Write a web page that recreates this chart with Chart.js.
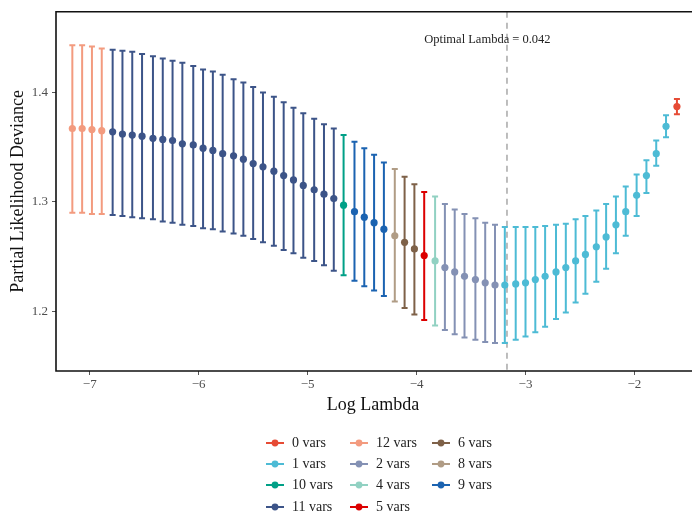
<!DOCTYPE html>
<html>
<head>
<meta charset="utf-8">
<script src="https://cdn.jsdelivr.net/npm/chart.js@4.4.1/dist/chart.umd.min.js"></script>
<style>
  body { margin: 0; background: #fff; }
  #wrap { position: relative; width: 694px; height: 515px; }
  #legend {
    position: absolute; left: 266px; top: 432px;
    display: grid; grid-auto-flow: column;
    grid-template-columns: 84px 82px 82px;
    grid-template-rows: repeat(4, 21.3px);
    font-family: "Liberation Serif", "DejaVu Serif", serif; font-size: 14px; color: #222;
  }
  .item { display: flex; align-items: center; white-space: nowrap; }
  .item svg { margin-right: 8px; }
</style>
</head>
<body>
<div id="wrap">
  <canvas id="cvChart" width="694" height="515"></canvas>
  <div id="legend"></div>
</div>
<script>
// log(lambda) for each fit along the path
const logLambda = [
  -7.16, -7.07, -6.98, -6.89, -6.79, -6.70, -6.61, -6.52, -6.42, -6.33,
  -6.24, -6.15, -6.05, -5.96, -5.87, -5.78, -5.68, -5.59, -5.50, -5.41,
  -5.31, -5.22, -5.13, -5.04, -4.94, -4.85, -4.76, -4.67, -4.57, -4.48,
  -4.39, -4.30, -4.20, -4.11, -4.02, -3.93, -3.83, -3.74, -3.65, -3.56,
  -3.46, -3.37, -3.28, -3.19, -3.09, -3.00, -2.91, -2.82, -2.72, -2.63,
  -2.54, -2.45, -2.35, -2.26, -2.17, -2.08, -1.98, -1.89, -1.80, -1.71, -1.61
];
const cvMean = [
  1.367, 1.367, 1.366, 1.365,
  1.364, 1.362, 1.361, 1.360, 1.358, 1.357, 1.356, 1.353, 1.352, 1.349, 1.347, 1.344,
  1.342, 1.339, 1.335, 1.332, 1.328, 1.324, 1.320, 1.315, 1.311, 1.307, 1.303,
  1.297,
  1.291, 1.286, 1.281, 1.275,
  1.269,
  1.263, 1.257,
  1.251,
  1.246,
  1.240, 1.236, 1.232, 1.229, 1.226, 1.224,
  1.224, 1.225, 1.226, 1.229, 1.232, 1.236, 1.240, 1.246, 1.252, 1.259, 1.268, 1.279,
  1.291, 1.306, 1.324, 1.344, 1.369,
  1.387
];
const cvUpper = [
  1.443, 1.443, 1.442, 1.440,
  1.439, 1.438, 1.437, 1.435, 1.433, 1.431, 1.429, 1.427, 1.424, 1.421, 1.419, 1.416,
  1.412, 1.409, 1.405, 1.400, 1.396, 1.391, 1.386, 1.381, 1.376, 1.371, 1.367,
  1.361,
  1.355, 1.349, 1.343, 1.336,
  1.330,
  1.323, 1.316,
  1.309,
  1.305,
  1.298, 1.293, 1.289, 1.285, 1.281, 1.279,
  1.277, 1.277, 1.277, 1.277, 1.278, 1.279, 1.280, 1.284, 1.287, 1.292, 1.298, 1.305,
  1.314, 1.325, 1.338, 1.356, 1.379,
  1.394
];
const cvLower = [
  1.290, 1.290, 1.289, 1.289,
  1.288, 1.287, 1.286, 1.285, 1.284, 1.282, 1.281, 1.279, 1.278, 1.276, 1.275, 1.273,
  1.271, 1.269, 1.266, 1.263, 1.260, 1.256, 1.253, 1.249, 1.246, 1.242, 1.237,
  1.233,
  1.228, 1.223, 1.219, 1.214,
  1.209,
  1.203, 1.197,
  1.192,
  1.187,
  1.183, 1.179, 1.176, 1.174, 1.172, 1.171,
  1.171, 1.174, 1.177, 1.181, 1.186, 1.193, 1.199, 1.208, 1.216, 1.227, 1.239, 1.253,
  1.269, 1.287, 1.308, 1.333, 1.359,
  1.380
];
const nVars = [
  12, 12, 12, 12,
  11, 11, 11, 11, 11, 11, 11, 11, 11, 11, 11, 11, 11, 11, 11, 11, 11, 11, 11, 11, 11, 11, 11,
  10,
  9, 9, 9, 9,
  8,
  6, 6,
  5,
  4,
  2, 2, 2, 2, 2, 2,
  1, 1, 1, 1, 1, 1, 1, 1, 1, 1, 1, 1, 1, 1, 1, 1, 1,
  0
];

const groupVars = [0, 1, 10, 11, 12, 2, 4, 5, 6, 8, 9];
const groupNames = ['0 vars', '1 vars', '10 vars', '11 vars', '12 vars', '2 vars', '4 vars', '5 vars', '6 vars', '8 vars', '9 vars'];
const groupColors = ['#E64B35', '#4DBBD5', '#00A087', '#3C5488', '#F39B7F', '#8491B4', '#91D1C2', '#DC0000', '#7E6148', '#B09C85', '#1B63B1'];

const xTicks = [-7, -6, -5, -4, -3, -2];
const yTicks = [1.2, 1.3, 1.4];
const optimalLambda = 0.042;
const optimalLabel = 'Optimal Lambda = 0.042';

const serif = '"Liberation Serif", "DejaVu Serif", serif';

const datasets = groupVars.map((v, i) => {
  const pts = [];
  nVars.forEach((n, j) => {
    if (n === v) pts.push({ x: logLambda[j], y: cvMean[j], lo: cvLower[j], hi: cvUpper[j] });
  });
  return {
    label: groupNames[i],
    data: pts,
    backgroundColor: groupColors[i],
    borderColor: groupColors[i],
    pointRadius: 3.6,
    borderWidth: 0,
    showLine: false
  };
});

// error bars, optimal lambda line, frame
const extras = {
  id: 'extras',
  beforeDatasetsDraw(chart) {
    const ctx = chart.ctx;
    const xs = chart.scales.x, ys = chart.scales.y;
    const area = chart.chartArea;

    const lx = xs.getPixelForValue(Math.log(optimalLambda));
    ctx.save();
    ctx.strokeStyle = '#a8a8a8';
    ctx.lineWidth = 1.5;
    ctx.setLineDash([6, 5]);
    ctx.beginPath();
    ctx.moveTo(lx, area.top);
    ctx.lineTo(lx, area.bottom);
    ctx.stroke();
    ctx.restore();

    ctx.save();
    ctx.font = '12.5px ' + serif;
    ctx.fillStyle = '#222';
    ctx.textAlign = 'center';
    ctx.textBaseline = 'middle';
    ctx.fillText(optimalLabel, xs.getPixelForValue(-3.35), ys.getPixelForValue(1.448));
    ctx.restore();

    ctx.save();
    ctx.lineWidth = 2;
    chart.data.datasets.forEach(ds => {
      ctx.strokeStyle = ds.borderColor;
      ds.data.forEach(p => {
        const px = xs.getPixelForValue(p.x);
        const top = ys.getPixelForValue(p.hi);
        const bot = ys.getPixelForValue(p.lo);
        ctx.beginPath();
        ctx.moveTo(px, top); ctx.lineTo(px, bot);
        ctx.moveTo(px - 3, top); ctx.lineTo(px + 3, top);
        ctx.moveTo(px - 3, bot); ctx.lineTo(px + 3, bot);
        ctx.stroke();
      });
    });
    ctx.restore();
  },
  afterDraw(chart) {
    const ctx = chart.ctx;
    const a = chart.chartArea;
    ctx.save();
    ctx.strokeStyle = '#111';
    ctx.lineWidth = 1.6;
    ctx.beginPath();
    ctx.moveTo(a.right + 2, a.top);
    ctx.lineTo(a.left, a.top);
    ctx.lineTo(a.left, a.bottom);
    ctx.lineTo(a.right + 2, a.bottom);
    ctx.stroke();
    ctx.restore();
  }
};

new Chart(document.getElementById('cvChart'), {
  type: 'scatter',
  data: { datasets: datasets },
  options: {
    responsive: false,
    animation: false,
    devicePixelRatio: 1,
    events: [],
    layout: { padding: { top: 10, right: 0, left: 0, bottom: 98 } },
    plugins: { legend: { display: false }, tooltip: { enabled: false } },
    scales: {
      x: {
        type: 'linear',
        min: -7.31,
        max: -1.49,
        afterBuildTicks: s => { s.ticks = xTicks.map(v => ({ value: v })); },
        afterFit: s => { s.height = 46; },
        grid: { drawOnChartArea: false, drawTicks: true, tickLength: 4, color: '#555' },
        border: { display: false },
        ticks: {
          padding: 2,
          color: '#4d4d4d',
          font: { family: serif, size: 13 },
          callback: v => (v < 0 ? '\u2212' + Math.abs(v) : String(v))
        },
        title: {
          display: true,
          text: 'Log Lambda',
          color: '#111',
          font: { family: serif, size: 18 },
          padding: { top: 0, bottom: 1 }
        }
      },
      y: {
        min: 1.1455,
        max: 1.4736,
        afterBuildTicks: s => { s.ticks = yTicks.map(v => ({ value: v })); },
        afterFit: s => { s.width = 56; },
        grid: { drawOnChartArea: false, drawTicks: true, tickLength: 4, color: '#555' },
        border: { display: false },
        ticks: {
          padding: 4,
          color: '#4d4d4d',
          font: { family: serif, size: 13 },
          callback: v => v.toFixed(1)
        },
        title: {
          display: true,
          text: 'Partial Likelihood Deviance',
          color: '#111',
          font: { family: serif, size: 18 },
          padding: { top: 7, bottom: 0 }
        }
      }
    }
  },
  plugins: [extras]
});

// legend laid out in columns like the original
const legend = document.getElementById('legend');
groupNames.forEach((name, i) => {
  const c = groupColors[i];
  const item = document.createElement('div');
  item.className = 'item';
  item.innerHTML =
    '<svg width="18" height="10"><line x1="0" y1="5" x2="18" y2="5" stroke="' + c + '" stroke-width="2"/>' +
    '<circle cx="9" cy="5" r="3.4" fill="' + c + '"/></svg><span>' + name + '</span>';
  legend.appendChild(item);
});
</script>
</body>
</html>
